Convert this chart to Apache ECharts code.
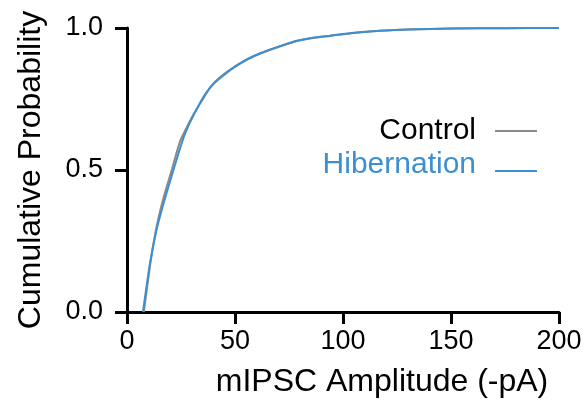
<!DOCTYPE html>
<html>
<head>
<meta charset="utf-8">
<script src="https://cdn.jsdelivr.net/npm/echarts@6/dist/echarts.min.js"></script>
<style>
  html, body { margin: 0; padding: 0; background: #fff; }
  #chart { width: 585px; height: 403px; }
</style>
</head>
<body>
<div id="chart"></div>
<script>
// amplitudes (-pA) and cumulative probability
const controlX = [7.8, 10.8, 13.7, 17, 20.7, 24.5, 27, 30, 33.8, 38, 40.7, 45, 49, 55.6, 62, 70.8, 78.7, 86, 94, 105, 117, 130, 150, 175, 200];
const controlY = [0, 0.17, 0.30, 0.405, 0.50, 0.60, 0.64, 0.685, 0.733, 0.785, 0.808, 0.835, 0.858, 0.889, 0.911, 0.935, 0.954, 0.965, 0.972, 0.982, 0.99, 0.995, 0.998, 0.9995, 1.0];
const hiberX = [7.4, 10.6, 13.7, 17, 20.7, 26, 29, 32.3, 36, 40.7, 45, 49, 55.6, 62, 70.8, 78.7, 86, 94, 105, 117, 130, 150, 175, 200];
const hiberY = [0, 0.17, 0.29, 0.385, 0.48, 0.61, 0.665, 0.715, 0.765, 0.81, 0.838, 0.86, 0.89, 0.912, 0.936, 0.955, 0.966, 0.973, 0.983, 0.99, 0.995, 0.998, 0.9995, 1.0];
const xTicks = [0, 200, 50];   // min, max, interval
const yTicks = [0, 1, 0.5];

const pair = (xs, ys) => xs.map((x, i) => [x, ys[i]]);

const chart = echarts.init(document.getElementById('chart'));
const font = 'Liberation Sans, Arial, sans-serif';
// thin legend line, padded with tiny points so the 16px box keeps its height
const iconMid = 'path://M0,0 L0.01,0 L0,0.01 Z M0,7 H42 V9 H0 Z M0,16 L0.01,16 L0,15.99 Z';
const iconLow = 'path://M0,0 L0.01,0 L0,0.01 Z M0,13 H42 V15 H0 Z M0,16 L0.01,16 L0,15.99 Z';

chart.setOption({
  animation: false,
  grid: { left: 127, right: 26, top: 28, bottom: 87 },
  legend: {
    orient: 'vertical',
    right: 48,
    top: 116,
    padding: 0,
    align: 'right',
    itemWidth: 42,
    itemHeight: 16,
    itemGap: 4,
    textStyle: { fontFamily: font, fontSize: 30, padding: [0, 14, 0, 0] },
    data: [
      { name: 'Control', icon: iconMid, textStyle: { color: '#000' } },
      { name: 'Hibernation', icon: iconLow, textStyle: { color: '#3d8fd0' } }
    ]
  },
  xAxis: {
    type: 'value',
    min: xTicks[0], max: xTicks[1], interval: xTicks[2],
    name: 'mIPSC Amplitude (-pA)',
    nameLocation: 'middle',
    nameGap: 54,
    nameTextStyle: { fontFamily: font, fontSize: 32, color: '#000', padding: [0, 0, 0, 78] },
    axisLine: { lineStyle: { color: '#000', width: 3 } },
    axisTick: { length: 12, lineStyle: { color: '#000', width: 3 } },
    axisLabel: { fontFamily: font, fontSize: 27, color: '#000', margin: 16 },
    splitLine: { show: false }
  },
  yAxis: {
    type: 'value',
    min: yTicks[0], max: yTicks[1], interval: yTicks[2],
    name: 'Cumulative Probability',
    nameLocation: 'middle',
    nameGap: 80,
    nameTextStyle: { fontFamily: font, fontSize: 32, color: '#000' },
    axisLine: { show: true, lineStyle: { color: '#000', width: 3 } },
    axisTick: { show: true, length: 12, lineStyle: { color: '#000', width: 3 } },
    axisLabel: { fontFamily: font, fontSize: 27, color: '#000', margin: 24, formatter: v => v.toFixed(1) },
    splitLine: { show: false }
  },
  series: [
    {
      name: 'Control',
      type: 'line',
      symbol: 'none',
      smooth: 0.2,
      lineStyle: { color: '#8a8a8a', width: 2 },
      itemStyle: { color: '#8a8a8a' },
      data: pair(controlX, controlY)
    },
    {
      name: 'Hibernation',
      type: 'line',
      symbol: 'none',
      smooth: 0.2,
      lineStyle: { color: '#3d8fd0', width: 2 },
      itemStyle: { color: '#3d8fd0' },
      data: pair(hiberX, hiberY)
    }
  ]
});
</script>
</body>
</html>
